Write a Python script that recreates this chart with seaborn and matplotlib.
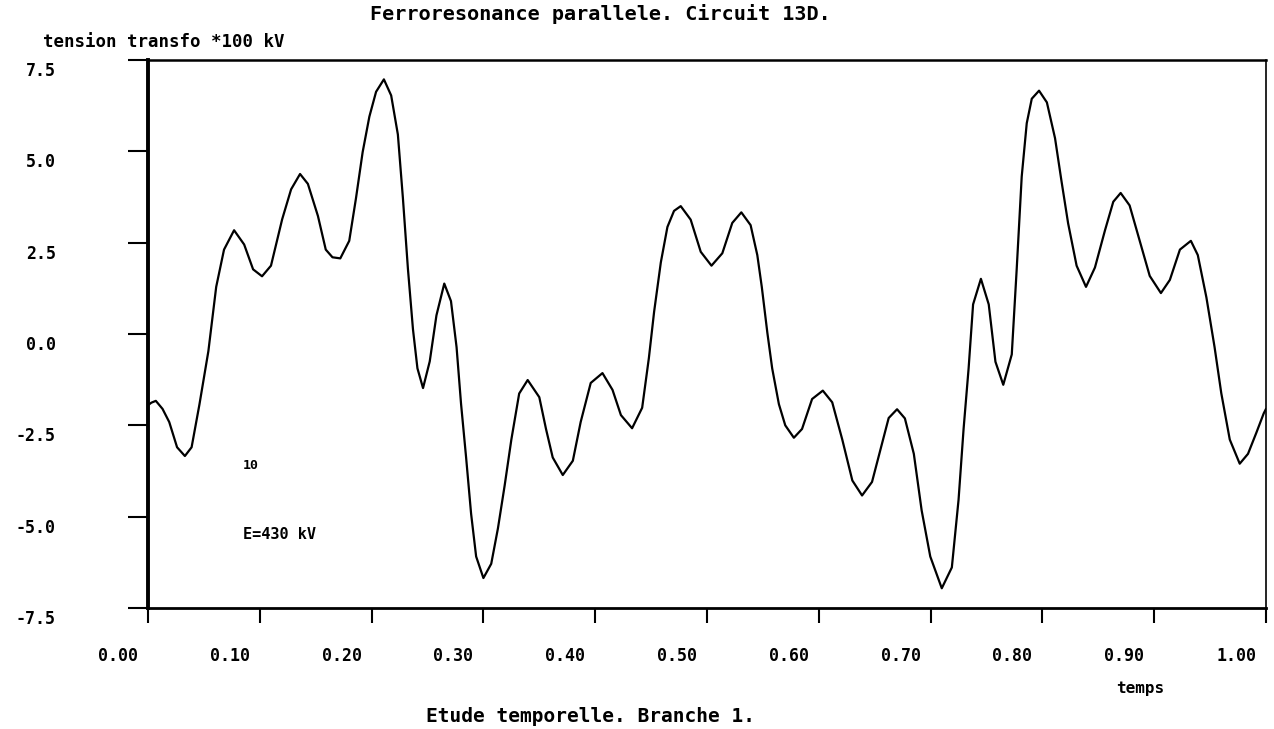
import matplotlib
matplotlib.use("Agg")
import matplotlib.pyplot as plt
import seaborn as sns
import pandas as pd
from matplotlib.transforms import ScaledTranslation

# ---- data ----
temps = [0.000, 0.003, 0.007, 0.013, 0.019, 0.026, 0.033, 0.039, 0.046, 0.054,
         0.061, 0.068, 0.077, 0.086, 0.094, 0.102, 0.110, 0.120, 0.128, 0.136,
         0.143, 0.152, 0.159, 0.165, 0.172, 0.180, 0.186, 0.192, 0.198, 0.204,
         0.211, 0.2175, 0.2235, 0.228, 0.2325, 0.237, 0.241, 0.246, 0.252, 0.258,
         0.265, 0.271, 0.276, 0.280, 0.2845, 0.289, 0.2935, 0.300, 0.307, 0.313,
         0.319, 0.325, 0.332, 0.3396, 0.350, 0.356, 0.362, 0.371, 0.380, 0.387,
         0.396, 0.4065, 0.4155, 0.423, 0.433, 0.442, 0.448, 0.4527, 0.4587, 0.4646,
         0.4705, 0.4765, 0.4854, 0.4944, 0.504, 0.5137, 0.5226, 0.5307, 0.539, 0.545,
         0.549, 0.554, 0.5583, 0.5643, 0.570, 0.5777, 0.585, 0.594, 0.6036, 0.612,
         0.621, 0.630, 0.6387, 0.6476, 0.655, 0.6625, 0.670, 0.677, 0.685, 0.692,
         0.6997, 0.710, 0.719, 0.725, 0.7295, 0.734, 0.738, 0.745, 0.752, 0.758,
         0.765, 0.7726, 0.777, 0.7815, 0.786, 0.7905, 0.797, 0.804, 0.8113, 0.817,
         0.823, 0.8306, 0.839, 0.847, 0.856, 0.8634, 0.870, 0.878, 0.887, 0.896,
         0.906, 0.914, 0.923, 0.9328, 0.939, 0.9467, 0.954, 0.960, 0.9676, 0.9765,
         0.9839, 0.9914, 0.998, 1.000]
tension = [-1.95, -1.88, -1.83, -2.05, -2.41, -3.10, -3.34, -3.10, -1.93, -0.47,
           1.29, 2.31, 2.84, 2.45, 1.77, 1.58, 1.87, 3.14, 3.96, 4.38,
           4.11, 3.23, 2.31, 2.10, 2.07, 2.55, 3.71, 4.98, 5.95, 6.63,
           6.97, 6.53, 5.46, 3.72, 1.78, 0.13, -0.94, -1.48, -0.75, 0.51,
           1.38, 0.90, -0.36, -1.91, -3.37, -4.92, -6.09, -6.68, -6.29, -5.32,
           -4.15, -2.89, -1.63, -1.26, -1.73, -2.60, -3.38, -3.86, -3.47, -2.41,
           -1.34, -1.07, -1.53, -2.22, -2.58, -2.02, -0.66, 0.61, 1.96, 2.93,
           3.37, 3.50, 3.13, 2.25, 1.87, 2.21, 3.04, 3.33, 2.98, 2.16,
           1.29, 0.03, -0.94, -1.92, -2.50, -2.84, -2.60, -1.78, -1.55, -1.87,
           -2.89, -4.01, -4.42, -4.05, -3.18, -2.30, -2.06, -2.31, -3.28, -4.83,
           -6.09, -6.96, -6.39, -4.54, -2.60, -0.94, 0.81, 1.51, 0.81, -0.76,
           -1.39, -0.56, 1.77, 4.31, 5.77, 6.44, 6.66, 6.34, 5.36, 4.20,
           3.03, 1.87, 1.29, 1.82, 2.84, 3.62, 3.86, 3.52, 2.56, 1.59,
           1.12, 1.48, 2.31, 2.55, 2.16, 1.00, -0.36, -1.62, -2.89, -3.55,
           -3.28, -2.70, -2.17, -2.05]

xticks = [0.0, 0.1, 0.2, 0.3, 0.4, 0.5, 0.6, 0.7, 0.8, 0.9, 1.0]
xticklabels = ["0.00", "0.10", "0.20", "0.30", "0.40", "0.50",
               "0.60", "0.70", "0.80", "0.90", "1.00"]
yticks = [-7.5, -5.0, -2.5, 0.0, 2.5, 5.0, 7.5]
yticklabels = ["-7.5", "-5.0", "-2.5", "0.0", "2.5", "5.0", "7.5"]

title = "Ferroresonance parallele. Circuit 13D."
ylabel = "tension transfo *100 kV"
xlabel = "Etude temporelle. Branche 1."
xunit = "temps"
note1 = "10"
note2 = "E=430 kV"

# ---- figure ----
sns.set_style("white")
plt.rcParams["font.family"] = ["DejaVu Sans Mono"]
plt.rcParams["font.weight"] = "bold"
plt.rcParams["text.color"] = "black"
plt.rcParams["xtick.color"] = "black"
plt.rcParams["ytick.color"] = "black"

W, H = 1274, 729
fig = plt.figure(figsize=(W / 100, H / 100), dpi=100)
ax = fig.add_axes([148 / W, 1 - 608 / H, (1266 - 148) / W, (608 - 60) / H])

df = pd.DataFrame({"temps": temps, "tension": tension})
sns.lineplot(data=df, x="temps", y="tension", ax=ax, color="black",
             linewidth=1.6, sort=False)

ax.set_xlim(0, 1)
ax.set_ylim(-7.5, 7.5)
ax.set_xlabel("")
ax.set_ylabel("")
ax.set_xticks(xticks)
ax.set_xticklabels(xticklabels, fontsize=12, fontweight="bold", color="black")
ax.set_yticks(yticks)
ax.set_yticklabels(yticklabels, fontsize=12, fontweight="bold", color="black")

ax.tick_params(axis="x", bottom=True, direction="out", length=11, width=1.5,
               pad=17, color="black", labelcolor="black")
ax.tick_params(axis="y", left=True, direction="out", length=14.5, width=1.5,
               pad=52, color="black", labelcolor="black")

for side, lw in [("left", 2.8), ("bottom", 2.0), ("top", 1.8), ("right", 1.2)]:
    ax.spines[side].set_visible(True)
    ax.spines[side].set_color("black")
    ax.spines[side].set_linewidth(lw)

off_x = ScaledTranslation(-10 / 100, 0, fig.dpi_scale_trans)
for lab in ax.get_xticklabels():
    lab.set_horizontalalignment("right")
    lab.set_transform(lab.get_transform() + off_x)
off_y = ScaledTranslation(0, -9 / 100, fig.dpi_scale_trans)
for lab in ax.get_yticklabels():
    lab.set_transform(lab.get_transform() + off_y)

fig.text(600 / W, 1 - 14 / H, title, ha="center", va="center",
         fontsize=14.5, fontweight="bold", color="black")
fig.text(43 / W, 1 - 42 / H, ylabel, ha="left", va="center",
         fontsize=12.5, fontweight="bold", color="black")
fig.text(590 / W, 1 - 716 / H, xlabel, ha="center", va="center",
         fontsize=14, fontweight="bold", color="black")
fig.text(1140 / W, 1 - 688 / H, xunit, ha="center", va="center",
         fontsize=11.5, fontweight="bold", color="black")

ax.text(0.085, -3.59, note1, ha="left", va="center", fontsize=9.5,
        fontweight="bold", color="black")
ax.text(0.085, -5.5, note2, ha="left", va="center", fontsize=11,
        fontweight="bold", color="black")

fig.savefig("out.png", dpi=100, facecolor="white")
